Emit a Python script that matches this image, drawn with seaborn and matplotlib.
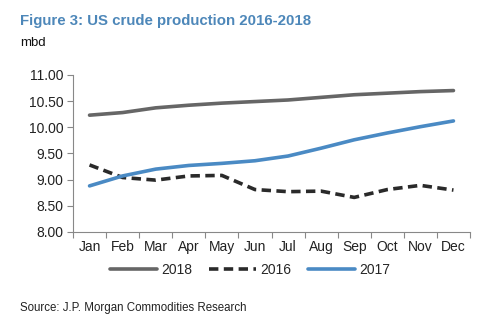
import matplotlib
matplotlib.use("Agg")
import matplotlib.pyplot as plt
import seaborn as sns
import pandas as pd
import numpy as np

months = ["Jan", "Feb", "Mar", "Apr", "May", "Jun", "Jul", "Aug", "Sep", "Oct", "Nov", "Dec"]
prod_2018 = [10.23, 10.28, 10.37, 10.42, 10.46, 10.49, 10.52, 10.57, 10.62, 10.65, 10.68, 10.70]
prod_2016 = [9.28, 9.04, 8.99, 9.07, 9.08, 8.81, 8.77, 8.78, 8.66, 8.81, 8.89, 8.80]
prod_2017 = [8.88, 9.07, 9.20, 9.27, 9.31, 9.36, 9.45, 9.60, 9.76, 9.89, 10.01, 10.12]
series_names = ["2018", "2016", "2017"]
yticks = [8.00, 8.50, 9.00, 9.50, 10.00, 10.50, 11.00]

sns.set_theme(style="white")
plt.rcParams["font.family"] = ["Liberation Sans", "DejaVu Sans"]

rows = []
for name, vals in zip(series_names, [prod_2018, prod_2016, prod_2017]):
    for i, v in enumerate(vals):
        rows.append({"month": i, "value": v, "year": name})
df = pd.DataFrame(rows)

fig = plt.figure(figsize=(5.0, 3.24), dpi=100)
ax = fig.add_axes([0.146, 0.284, 0.794, 0.485])

palette = {"2018": "#666666", "2016": "#2a2a2a", "2017": "#4a8ac4"}
dashes = {"2018": "", "2016": (2.6, 1.5), "2017": ""}
sns.lineplot(data=df, x="month", y="value", hue="year", style="year",
             palette=palette, dashes=dashes, hue_order=series_names,
             style_order=series_names, linewidth=2.6, ax=ax, legend=False)

ax.set_xlim(-0.5, 11.5)
ax.set_ylim(8.0, 11.0)
ax.set_yticks(yticks)
ax.set_yticklabels([f"{t:.2f}" for t in yticks], fontsize=10, color="#222222")
ax.set_xticks(range(12))
ax.set_xticklabels(months, fontsize=10, color="#222222")
ax.set_xticks(np.arange(-0.5, 12, 1.0), minor=True)
ax.tick_params(axis="x", which="major", length=0, pad=6)
ax.tick_params(axis="x", which="minor", length=4, color="#888888", width=0.8, direction="out", bottom=True)
ax.tick_params(axis="y", length=4, color="#888888", width=0.8, direction="out", left=True, pad=3)
ax.set_xlabel("")
ax.set_ylabel("")
for s in ["top", "right"]:
    ax.spines[s].set_visible(False)
for s in ["left", "bottom"]:
    ax.spines[s].set_color("#888888")
    ax.spines[s].set_linewidth(0.8)

handles = [plt.Line2D([], [], color=palette[n], lw=2.6,
                      dashes=(dashes[n] if dashes[n] else (None, None)),
                      linestyle="--" if dashes[n] else "-") for n in series_names]
fig.legend(handles, series_names, loc="center", bbox_to_anchor=(0.5, 0.168),
           ncol=3, frameon=False, fontsize=10, handlelength=3.4,
           handletextpad=0.3, columnspacing=1.2)

fig.text(0.04, 0.935, "Figure 3: US crude production 2016-2018", fontsize=10.8,
         fontweight="bold", color="#4d87b9", ha="left", va="center")
fig.text(0.04, 0.868, "mbd", fontsize=9.5, color="#111111", ha="left", va="center")
fig.text(0.04, 0.05, "Source: J.P. Morgan Commodities Research", fontsize=8.3,
         color="#222222", ha="left", va="center")

fig.savefig("out.png", dpi=100)
